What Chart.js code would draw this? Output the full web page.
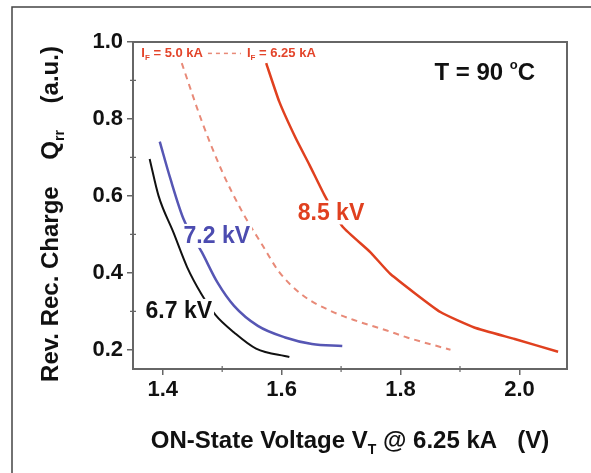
<!DOCTYPE html>
<html>
<head>
<meta charset="utf-8">
<script src="https://cdn.jsdelivr.net/npm/chart.js@4"></script>
<style>
  body { margin: 0; background: #fff; }
  canvas { display: block; }
</style>
</head>
<body>
<canvas id="myChart" width="591" height="473"></canvas>
<script>
// curves: V_T (V) and Q_rr (a.u.)
const v67 = [1.378, 1.393, 1.418, 1.441, 1.465, 1.489, 1.520, 1.557, 1.613];
const q67 = [0.696, 0.600, 0.505, 0.415, 0.345, 0.290, 0.245, 0.203, 0.181];

const v72 = [1.395, 1.413, 1.435, 1.466, 1.492, 1.520, 1.560, 1.606, 1.651, 1.702];
const q72 = [0.741, 0.644, 0.540, 0.453, 0.375, 0.314, 0.262, 0.232, 0.215, 0.210];

// 8.5 kV, I_F = 5.0 kA (dashed)
const v85a = [1.432, 1.466, 1.500, 1.534, 1.568, 1.596, 1.636, 1.681, 1.726, 1.777, 1.811, 1.884];
const q85a = [0.945, 0.793, 0.663, 0.558, 0.471, 0.402, 0.341, 0.302, 0.275, 0.250, 0.232, 0.200];

// 8.5 kV, I_F = 6.25 kA (solid)
const v85b = [1.574, 1.596, 1.624, 1.647, 1.672, 1.703, 1.749, 1.783, 1.867, 1.924, 1.992, 2.065];
const q85b = [0.945, 0.845, 0.749, 0.680, 0.602, 0.519, 0.454, 0.397, 0.298, 0.258, 0.228, 0.195];

const xMajor = [1.4, 1.6, 1.8, 2.0];
const xMinor = [1.5, 1.7, 1.9];
const yMajor = [0.2, 0.4, 0.6, 0.8, 1.0];
const yMinor = [0.3, 0.5, 0.7, 0.9];

// curve labels, placed in data coordinates
const labels = [
  { text: '6.7 kV', v: 1.427, q: 0.301, color: '#111111' },
  { text: '7.2 kV', v: 1.491, q: 0.496, color: '#4c4cb0' },
  { text: '8.5 kV', v: 1.683, q: 0.557, color: '#e0401f' }
];

const FONT = '"Liberation Sans", Arial, sans-serif';
const RED = '#e3442a';

function pts(xs, ys) {
  return xs.map((x, i) => ({ x: x, y: ys[i] }));
}

// draw a run of [text, size, dy] pieces starting at x
function runText(ctx, parts, x, y) {
  parts.forEach(p => {
    ctx.font = 'bold ' + p[1] + 'px ' + FONT;
    ctx.fillText(p[0], x, y + (p[2] || 0));
    x += ctx.measureText(p[0]).width;
  });
  return x;
}
function runWidth(ctx, parts) {
  let w = 0;
  parts.forEach(p => {
    ctx.font = 'bold ' + p[1] + 'px ' + FONT;
    w += ctx.measureText(p[0]).width;
  });
  return w;
}

const decor = {
  id: 'decor',
  afterDatasetsDraw(chart) {
    const ctx = chart.ctx;
    const a = chart.chartArea;
    const xs = chart.scales.x, ys = chart.scales.y;
    ctx.save();

    // curve labels with white backing
    ctx.textAlign = 'center';
    ctx.textBaseline = 'middle';
    ctx.font = 'bold 23px ' + FONT;
    labels.forEach(l => {
      const px = xs.getPixelForValue(l.v), py = ys.getPixelForValue(l.q);
      const w = ctx.measureText(l.text).width;
      ctx.fillStyle = '#fff';
      ctx.fillRect(px - w / 2 - 2, py - 12, w + 4, 24);
      ctx.fillStyle = l.color;
      ctx.fillText(l.text, px, py + 1);
    });

    // T = 90 °C
    ctx.textAlign = 'left';
    ctx.textBaseline = 'alphabetic';
    ctx.fillStyle = '#111';
    let tx = xs.getPixelForValue(1.857), ty = ys.getPixelForValue(0.9);
    runText(ctx, [['T = 90 ', 24], ['o', 13, -11], ['C', 24]], tx, ty);

    // legend line
    ctx.fillStyle = RED;
    let lx = xs.getPixelForValue(1.364), ly = ys.getPixelForValue(0.96);
    lx = runText(ctx, [['I', 13], ['F', 8, 3], [' = 5.0 kA', 13]], lx, ly);
    ctx.strokeStyle = '#e88a78';
    ctx.lineWidth = 1.5;
    ctx.setLineDash([4, 4]);
    ctx.beginPath();
    ctx.moveTo(lx + 5, ly - 4);
    ctx.lineTo(lx + 38, ly - 4);
    ctx.stroke();
    ctx.setLineDash([]);
    runText(ctx, [['I', 13], ['F', 8, 3], [' = 6.25 kA', 13]], lx + 44, ly);

    // frame
    ctx.strokeStyle = '#666';
    ctx.lineWidth = 2;
    ctx.strokeRect(a.left, a.top, a.right - a.left, a.bottom - a.top);

    // minor ticks
    ctx.lineWidth = 1.2;
    ctx.beginPath();
    xMinor.forEach(v => {
      const px = xs.getPixelForValue(v);
      ctx.moveTo(px, a.bottom - 3);
      ctx.lineTo(px, a.bottom + 3);
    });
    yMinor.forEach(v => {
      const py = ys.getPixelForValue(v);
      ctx.moveTo(a.left - 3, py);
      ctx.lineTo(a.left + 3, py);
    });
    ctx.stroke();

    // axis titles
    ctx.fillStyle = '#111';
    const xt = [['ON-State Voltage V', 24], ['T', 14, 6], [' @ 6.25 kA   (V)', 24]];
    runText(ctx, xt, 350 - runWidth(ctx, xt) / 2, 448);

    const yt = [['Rev. Rec. Charge    Q', 24], ['rr', 14, 6], ['    (a.u.)', 24]];
    ctx.translate(58, 214);
    ctx.rotate(-Math.PI / 2);
    runText(ctx, yt, -runWidth(ctx, yt) / 2, 0);
    ctx.restore();

    // outer picture border
    ctx.save();
    ctx.strokeStyle = '#444';
    ctx.lineWidth = 1.5;
    ctx.beginPath();
    ctx.moveTo(12, 473);
    ctx.lineTo(12, 7);
    ctx.lineTo(591, 7);
    ctx.stroke();
    ctx.restore();
  }
};

const tickFont = { family: FONT, size: 22, weight: 'bold' };

const config = {
  type: 'scatter',
  data: {
    datasets: [
      { label: '6.7 kV', data: pts(v67, q67), borderColor: '#111111', borderWidth: 2, cubicInterpolationMode: 'monotone' },
      { label: '7.2 kV', data: pts(v72, q72), borderColor: '#5656b4', borderWidth: 2.5, cubicInterpolationMode: 'monotone' },
      { label: '8.5 kV 5.0 kA', data: pts(v85a, q85a), borderColor: '#e88a78', borderWidth: 2, borderDash: [6, 5], cubicInterpolationMode: 'monotone' },
      { label: '8.5 kV 6.25 kA', data: pts(v85b, q85b), borderColor: '#e0401f', borderWidth: 2.5, tension: 0.15 }
    ]
  },
  options: {
    responsive: false,
    animation: false,
    showLine: true,
    elements: { point: { radius: 0 } },
    layout: { padding: { left: 0, right: 24, top: 42, bottom: 0 } },
    plugins: { legend: { display: false }, tooltip: { enabled: false } },
    scales: {
      x: {
        type: 'linear',
        min: 1.35, max: 2.08,
        afterBuildTicks: s => { s.ticks = xMajor.map(v => ({ value: v })); },
        afterFit: s => { s.height = 104; },
        border: { display: false },
        grid: { drawOnChartArea: false, color: '#666', lineWidth: 1.5, tickLength: 6 },
        ticks: { font: tickFont, color: '#111', padding: 2, callback: v => v.toFixed(1) }
      },
      y: {
        type: 'linear',
        min: 0.15, max: 1.0,
        afterBuildTicks: s => { s.ticks = yMajor.map(v => ({ value: v })); },
        afterFit: s => { s.width = 133; },
        border: { display: false },
        grid: { drawOnChartArea: false, color: '#666', lineWidth: 1.5, tickLength: 6 },
        ticks: { font: tickFont, color: '#111', padding: 4, callback: v => v.toFixed(1) }
      }
    }
  },
  plugins: [decor]
};

new Chart(document.getElementById('myChart'), config);
</script>
</body>
</html>
